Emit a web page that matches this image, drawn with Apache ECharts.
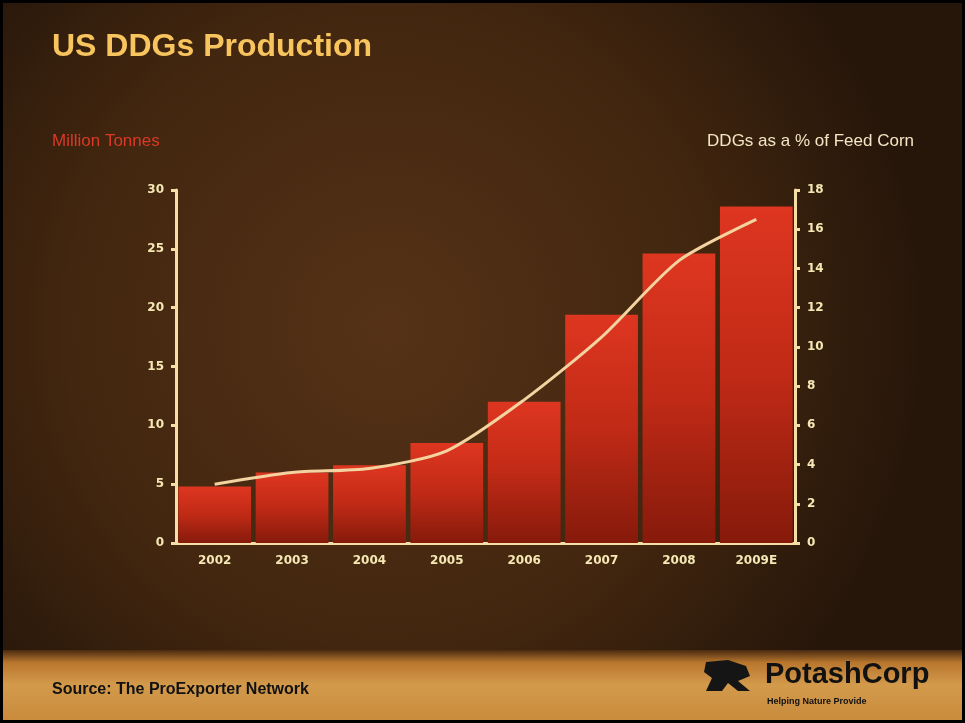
<!DOCTYPE html>
<html><head><meta charset="utf-8">
<script src="https://cdn.jsdelivr.net/npm/echarts@6/dist/echarts.min.js"></script>
<style>html,body{margin:0;padding:0;background:#000}#c{width:965px;height:723px}</style>
</head><body><div id="c"></div>
<script>
const categories = ['2002','2003','2004','2005','2006','2007','2008','2009E'];
const productionMt = [4.8, 6.0, 6.6, 8.5, 12.0, 19.4, 24.6, 28.6];
const pctFeedCorn = [3.0, 3.6, 3.8, 4.7, 7.3, 10.5, 14.4, 16.5];

const chart = echarts.init(document.getElementById('c'), null, {renderer:'canvas'});
const cream = '#f6dfa6';
const lbl = {color:'#f5e8b4', fontFamily:'DejaVu Sans', fontWeight:'bold', fontSize:12};
chart.setOption({
  animation:false,
  backgroundColor:'#000',
  graphic:[
    {type:'rect', z:-10, shape:{x:3,y:3,width:959,height:717},
     style:{fill:{type:'radial', x:0.4, y:0.45, r:0.75,
       colorStops:[{offset:0,color:'#553217'},{offset:0.6,color:'#42260f'},{offset:1,color:'#26160a'}]}}},
    {type:'rect', z:-9, shape:{x:3,y:650,width:959,height:70},
     style:{fill:{type:'linear',x:0,y:0,x2:0,y2:1,
       colorStops:[{offset:0,color:'#4a2a10'},{offset:0.18,color:'#b9772e'},{offset:0.5,color:'#d39a4c'},{offset:1,color:'#c98b3c'}]}}},
    {type:'text', left:52, top:31, style:{text:'US DDGs Production', fill:'#f7c45e', font:'bold 32px "Liberation Sans", Arial, sans-serif'}},
    {type:'text', left:52, top:133, style:{text:'Million Tonnes', fill:'#d83a26', font:'17px "Liberation Sans", Arial, sans-serif'}},
    {type:'text', right:51, top:133, style:{text:'DDGs as a % of Feed Corn', fill:'#f4e6c4', font:'17px "Liberation Sans", Arial, sans-serif'}},
    {type:'text', left:52, top:682, style:{text:'Source: The ProExporter Network', fill:'#111', font:'bold 16px "Liberation Sans", Arial, sans-serif'}},
    {type:'polygon', shape:{points:[[706,662],[728,660],[746,666],[750,676],[738,681],[750,691],[738,691],[728,683],[722,691],[706,691],[712,678],[704,672]]},
     style:{fill:'#151515'}},
    {type:'text', left:765, top:660, style:{text:'PotashCorp', fill:'#111', font:'bold 29px "Liberation Sans Narrow", "Liberation Sans", Arial, sans-serif'}},
    {type:'text', left:767, top:697, style:{text:'Helping Nature Provide', fill:'#111', font:'bold 9px "Liberation Sans", Arial, sans-serif'}}
  ],
  grid:{left:176, right:170, top:190, bottom:180, containLabel:false},
  xAxis:{type:'category', data:categories,
    axisLine:{lineStyle:{color:cream, width:3}},
    axisTick:{show:false},
    axisLabel:Object.assign({margin:12}, lbl),
    splitLine:{show:false}},
  yAxis:[
    {type:'value', min:0, max:30, interval:5, position:'left',
     axisLine:{show:true, lineStyle:{color:cream, width:3}},
     axisTick:{show:true, length:5, lineStyle:{color:cream, width:3}},
     axisLabel:Object.assign({margin:12}, lbl),
     splitLine:{show:false}},
    {type:'value', min:0, max:18, interval:2, position:'right',
     axisLine:{show:true, lineStyle:{color:cream, width:3}},
     axisTick:{show:true, length:5, lineStyle:{color:cream, width:3}},
     axisLabel:Object.assign({margin:12}, lbl),
     splitLine:{show:false}}
  ],
  series:[
    {type:'bar', data:productionMt, yAxisIndex:0, barCategoryGap:'6%',
     itemStyle:{color:{type:'linear',x:0,y:0,x2:0,y2:1,
       colorStops:[{offset:0,color:'#de3620'},{offset:0.5,color:'#c02a16'},{offset:1,color:'#861a0b'}]}}},
    {type:'line', data:pctFeedCorn, yAxisIndex:1, smooth:0.25, showSymbol:false, symbol:'none',
     lineStyle:{color:'#f3d3a0', width:3}, z:5}
  ]
});
</script></body></html>
